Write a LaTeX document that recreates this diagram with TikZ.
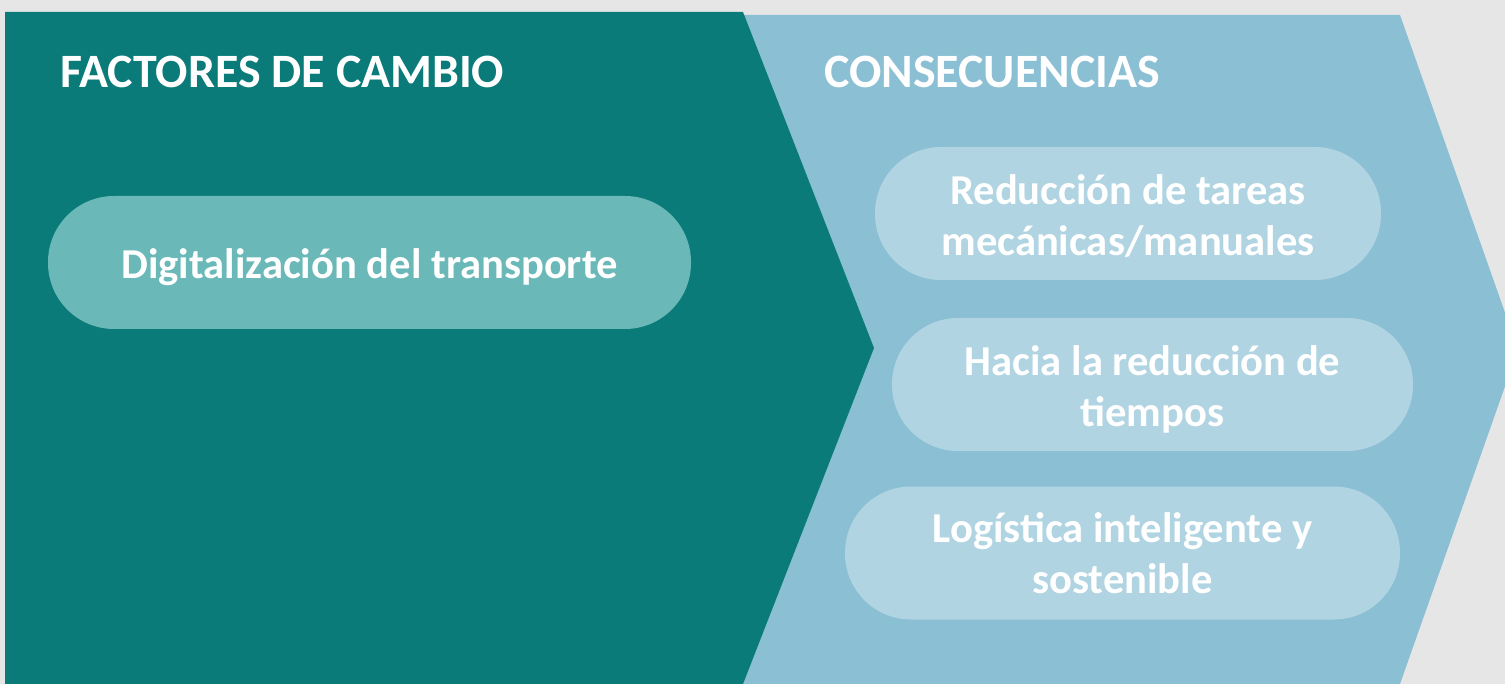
\documentclass[tikz,border=0pt]{standalone}
\usepackage{fontspec}
\setmainfont{Carlito}
\definecolor{bggray}{HTML}{E6E6E6}
\definecolor{darkteal}{HTML}{0A7B78}
\definecolor{lightblue}{HTML}{8BBFD3}
\definecolor{tealpill}{HTML}{6AB8B7}
\definecolor{bluepill}{HTML}{B0D4E2}
\newcommand{\pilltext}[2]{\raisebox{#1}[\height][\depth]{\begin{tabular}{@{}c@{}}#2\end{tabular}}}
\tikzset{
  pill/.style={rectangle, rounded corners=66pt, minimum height=133pt, inner sep=0pt,
    text=white, font=\fontsize{42.6}{51}\selectfont\bfseries, align=center},
  heading/.style={text=white, font=\fontsize{47.9}{56}\selectfont\bfseries, anchor=west, inner sep=0pt}
}
\begin{document}
\begin{tikzpicture}[x=1pt,y=-1pt]
\fill[bggray] (0,0) rectangle (1505,684);
\useasboundingbox (0,0) rectangle (1505,684);
\fill[lightblue] (740,15) -- (1400,15) -- (1518,349.5) -- (1400,684) -- (740,684) -- cycle;
\fill[darkteal] (5,12) -- (743,12) -- (874,348) -- (743,684) -- (5,684) -- cycle;
\node[heading] (h1) at (60,72) {FACTORES DE CAMBIO};
\node[heading] (h2) at (824,72) {CONSECUENCIAS};
\node[pill, fill=tealpill, minimum width=643pt] (f1) at (369.5,262.5) {\pilltext{-6pt}{Digitalización del transporte}};
\node[pill, fill=bluepill, minimum width=506pt] (c1) at (1128,213.5) {\pilltext{-6pt}{Reducción de tareas\\mecánicas/manuales}};
\node[pill, fill=bluepill, minimum width=521pt] (c2) at (1152.5,384.5) {\pilltext{-6pt}{Hacia la reducción de\\tiempos}};
\node[pill, fill=bluepill, minimum width=555pt] (c3) at (1122.5,553) {\pilltext{-5pt}{Logística inteligente y\\sostenible}};
\end{tikzpicture}
\end{document}
